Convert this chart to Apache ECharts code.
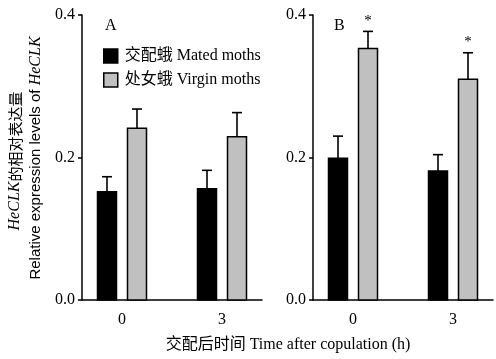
<!DOCTYPE html>
<html><head><meta charset="utf-8">
<script src="https://cdn.jsdelivr.net/npm/echarts@6/dist/echarts.min.js"></script>
<style>html,body{margin:0;padding:0;background:#fff}#c{width:496px;height:359px}</style>
</head><body><div id="c"></div>
<script>
const timePoints = [0, 3];
const xTickLabels = ['0', '3'];
const yTickValues = [0, 0.2, 0.4];
const matedA = [0.152, 0.156];
const matedAErr = [0.021, 0.026];
const virginA = [0.241, 0.229];
const virginAErr = [0.027, 0.034];
const matedB = [0.199, 0.181];
const matedBErr = [0.031, 0.023];
const virginB = [0.353, 0.310];
const virginBErr = [0.024, 0.037];
const sigMatedA = ['', ''];
const sigVirginA = ['', ''];
const sigMatedB = ['', ''];
const sigVirginB = ['*', '*'];
const seriesNames = ['交配蛾 Mated moths', '处女蛾 Virgin moths'];

const SERIF = '"Liberation Serif","Times New Roman","Noto Sans CJK SC",serif';
const CJK = '"Noto Sans CJK SC",sans-serif';
const BLACK = '#000000', GRAY = '#c0c0c0';

function pack(vals, errs) { return vals.map((v, i) => [timePoints[i], v, errs[i]]); }

function makeRender(offset, color, sig) {
  return function (params, api) {
    const x = api.value(0), v = api.value(1), e = api.value(2);
    const base = api.coord([x, 0]);
    const top = api.coord([x, v]);
    const et = api.coord([x, v + e]);
    const cx = base[0] + offset;
    const w = 19;
    const children = [
      { type: 'line', shape: { x1: cx, y1: top[1], x2: cx, y2: et[1] }, style: { stroke: BLACK, lineWidth: 1.6 } },
      { type: 'line', shape: { x1: cx - 5, y1: et[1], x2: cx + 5, y2: et[1] }, style: { stroke: BLACK, lineWidth: 1.6 } },
      { type: 'rect', shape: { x: cx - w / 2, y: top[1], width: w, height: base[1] - top[1] }, style: { fill: color, stroke: BLACK, lineWidth: 1.5 } }
    ];
    const s = sig[params.dataIndex];
    if (s) {
      children.push({ type: 'text', style: { text: s, x: cx, y: et[1] - 3, align: 'center', verticalAlign: 'bottom', font: '15px ' + SERIF, fill: BLACK } });
    }
    return { type: 'group', children };
  };
}

function xAxisDef(idx) {
  return {
    type: 'value', gridIndex: idx, min: -1.2, max: 4.2, interval: 0.6,
    axisLine: { onZero: false, lineStyle: { color: BLACK, width: 1.5 } },
    axisTick: { show: false }, splitLine: { show: false },
    axisLabel: {
      color: BLACK, fontSize: 16, fontFamily: SERIF, margin: 12,
      formatter: v => { for (let i = 0; i < timePoints.length; i++) if (Math.abs(v - timePoints[i]) < 1e-6) return xTickLabels[i]; return ''; }
    }
  };
}
function yAxisDef(idx) {
  return {
    type: 'value', gridIndex: idx, min: yTickValues[0], max: yTickValues[yTickValues.length - 1], interval: 0.2,
    axisLine: { show: true, onZero: false, lineStyle: { color: BLACK, width: 1.5 } },
    axisTick: { show: true, inside: false, length: 4, lineStyle: { color: BLACK, width: 1.5 } },
    splitLine: { show: false },
    axisLabel: { color: BLACK, fontSize: 16, fontFamily: SERIF, margin: 7, formatter: v => v.toFixed(1) }
  };
}

const chart = echarts.init(document.getElementById('c'), null, { renderer: 'canvas' });
chart.setOption({
  backgroundColor: '#fff',
  animation: false,
  grid: [
    { left: 82, top: 15, width: 180, height: 285 },
    { left: 313, top: 15, width: 180, height: 285 }
  ],
  xAxis: [xAxisDef(0), xAxisDef(1)],
  yAxis: [yAxisDef(0), yAxisDef(1)],
  legend: {
    left: 103, top: 48, padding: 0, orient: 'vertical', itemWidth: 14, itemHeight: 14, itemGap: 8,
    icon: 'rect',
    textStyle: { color: BLACK, fontSize: 16, fontFamily: SERIF, padding: [0, 0, 0, 2] },
    data: seriesNames.map((n, i) => ({ name: n, itemStyle: { color: i === 0 ? BLACK : GRAY, borderColor: BLACK, borderWidth: 1.5 } }))
  },
  series: [
    { type: 'custom', name: seriesNames[0], xAxisIndex: 0, yAxisIndex: 0, itemStyle: { color: BLACK }, renderItem: makeRender(-15, BLACK, sigMatedA), data: pack(matedA, matedAErr) },
    { type: 'custom', name: seriesNames[1], xAxisIndex: 0, yAxisIndex: 0, itemStyle: { color: GRAY }, renderItem: makeRender(15, GRAY, sigVirginA), data: pack(virginA, virginAErr) },
    { type: 'custom', name: seriesNames[0], xAxisIndex: 1, yAxisIndex: 1, itemStyle: { color: BLACK }, renderItem: makeRender(-15, BLACK, sigMatedB), data: pack(matedB, matedBErr) },
    { type: 'custom', name: seriesNames[1], xAxisIndex: 1, yAxisIndex: 1, itemStyle: { color: GRAY }, renderItem: makeRender(15, GRAY, sigVirginB), data: pack(virginB, virginBErr) }
  ],
  graphic: [
    { type: 'text', left: 105, top: 18, style: { text: 'A', font: '16px ' + SERIF, fill: BLACK } },
    { type: 'text', left: 334, top: 18, style: { text: 'B', font: '16px ' + SERIF, fill: BLACK } },
    { type: 'text', x: 288, y: 345, style: { text: '交配后时间 Time after copulation (h)', font: '16px ' + SERIF, fill: BLACK, align: 'center', verticalAlign: 'middle' } },
    { type: 'text', x: 15, y: 161, rotation: Math.PI / 2,
      style: { text: '{i|HeCLK}{c|的相对表达量}', font: '15px ' + SERIF, align: 'center', verticalAlign: 'middle', fill: BLACK,
        rich: { i: { font: 'italic 16px ' + SERIF, fill: BLACK }, c: { font: '15px ' + CJK, fill: BLACK } } } },
    { type: 'text', x: 36, y: 158, rotation: Math.PI / 2,
      style: { text: '{n|Relative expression levels of }{i|HeCLK}', font: '15px ' + SERIF, align: 'center', verticalAlign: 'middle', fill: BLACK,
        rich: { n: { font: '15px "Liberation Sans Narrow","Liberation Sans",Arial,sans-serif', fill: BLACK }, i: { font: 'italic 16px ' + SERIF, fill: BLACK } } } }
  ]
});
</script></body></html>
